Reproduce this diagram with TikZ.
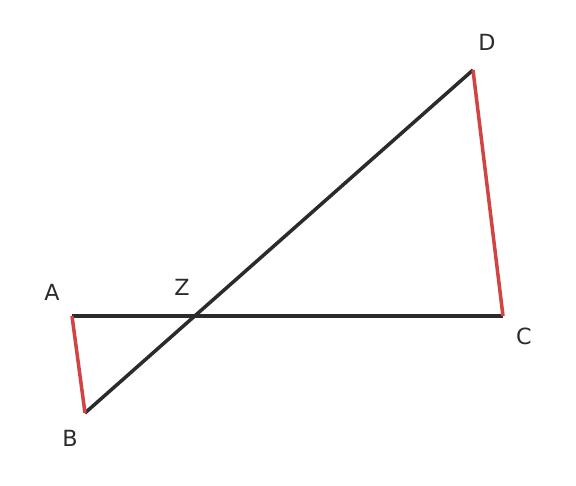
\documentclass[tikz,border=0pt]{standalone}
\usepackage{fontspec}
\setmainfont{DejaVu Sans}
\usepackage{xcolor}
\usetikzlibrary{intersections,calc}
\definecolor{segdark}{HTML}{2B2B2B}
\definecolor{segred}{HTML}{D24343}

\begin{document}
\begin{tikzpicture}[x=0.03cm,y=-0.03cm,
    seg/.style={line width=3pt,segdark},
    redseg/.style={line width=3pt,segred},
    lbl/.style={font=\fontsize{19}{22}\selectfont,text=segdark,inner sep=0pt}]
  \useasboundingbox (0,0) rectangle (576,486);
  \coordinate (A) at (72,316);
  \coordinate (B) at (85,413);
  \coordinate (C) at (503,316);
  \coordinate (D) at (473,70);
  \draw[seg,name path=ac] (A) -- (C); % base
  \draw[seg,name path=bd] (B) -- (D); % diagonale
  \draw[redseg] (A) -- (B);
  \draw[redseg] (C) -- (D);
  \path[name intersections={of=ac and bd,by=Z}];
  \node[lbl] (la) at (52,292) {A};
  \node[lbl] (lb) at (70,438) {B};
  \node[lbl] (lc) at (524,336) {C};
  \node[lbl] (ld) at (487,42) {D};
  \node[lbl] (lz) at (182,287) {Z};
\end{tikzpicture}
\end{document}
